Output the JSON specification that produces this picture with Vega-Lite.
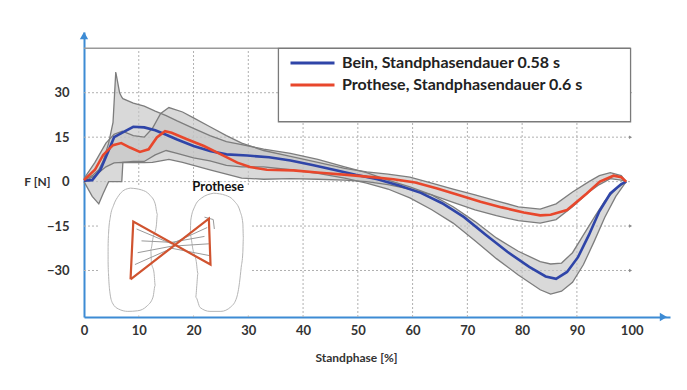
{
  "$schema": "https://vega.github.io/schema/vega-lite/v6.json",
  "width": 586,
  "height": 285,
  "autosize": "none",
  "padding": {"left": 84, "top": 32, "right": 17, "bottom": 73},
  "background": "white",
  "data": {"values": [{}]},
  "datasets": {
    "gridv": [{"gx": 10}, {"gx": 20}, {"gx": 30}, {"gx": 40}, {"gx": 50}, {"gx": 60}, {"gx": 70}, {"gx": 80}, {"gx": 90}],
    "gridh": [{"gy": -30}, {"gy": -15}, {"gy": 0}, {"gy": 15}, {"gy": 30}],
    "band": [
      {"band": "Bein", "x": 0, "hi": 0.5, "lo": 0},
      {"band": "Bein", "x": 1.5, "hi": 2, "lo": -5},
      {"band": "Bein", "x": 2.7, "hi": 4, "lo": -7.5},
      {"band": "Bein", "x": 3.5, "hi": 7, "lo": -4},
      {"band": "Bein", "x": 4.5, "hi": 13, "lo": 0},
      {"band": "Bein", "x": 5.3, "hi": 20, "lo": 0},
      {"band": "Bein", "x": 5.8, "hi": 37, "lo": 0},
      {"band": "Bein", "x": 6.5, "hi": 30, "lo": 0},
      {"band": "Bein", "x": 6.9, "hi": 28.5, "lo": 0},
      {"band": "Bein", "x": 7.1, "hi": 28, "lo": 6.5},
      {"band": "Bein", "x": 9, "hi": 26.5, "lo": 6.8},
      {"band": "Bein", "x": 11, "hi": 25.5, "lo": 6.8},
      {"band": "Bein", "x": 13, "hi": 23.8, "lo": 9},
      {"band": "Bein", "x": 15, "hi": 22.3, "lo": 10.5},
      {"band": "Bein", "x": 17, "hi": 20.5, "lo": 9.5},
      {"band": "Bein", "x": 20, "hi": 18, "lo": 8},
      {"band": "Bein", "x": 23, "hi": 15.5, "lo": 7},
      {"band": "Bein", "x": 26, "hi": 13.5, "lo": 5.5},
      {"band": "Bein", "x": 28.8, "hi": 12.5, "lo": 5},
      {"band": "Bein", "x": 32.8, "hi": 11, "lo": 5},
      {"band": "Bein", "x": 37.7, "hi": 9.5, "lo": 4},
      {"band": "Bein", "x": 42.7, "hi": 7.5, "lo": 2.8},
      {"band": "Bein", "x": 47.6, "hi": 5, "lo": 1.2},
      {"band": "Bein", "x": 51.6, "hi": 3, "lo": -0.5},
      {"band": "Bein", "x": 55.5, "hi": 0.5, "lo": -2.5},
      {"band": "Bein", "x": 59.5, "hi": -1.8, "lo": -5.5},
      {"band": "Bein", "x": 63.5, "hi": -4.5, "lo": -9.5},
      {"band": "Bein", "x": 67.4, "hi": -8.5, "lo": -14},
      {"band": "Bein", "x": 71.4, "hi": -13.5, "lo": -20},
      {"band": "Bein", "x": 75.3, "hi": -19, "lo": -26},
      {"band": "Bein", "x": 79.3, "hi": -23.5, "lo": -31.5},
      {"band": "Bein", "x": 83.3, "hi": -27, "lo": -36.5},
      {"band": "Bein", "x": 85.2, "hi": -27.8, "lo": -38},
      {"band": "Bein", "x": 87.2, "hi": -27.5, "lo": -37},
      {"band": "Bein", "x": 89.2, "hi": -24, "lo": -34},
      {"band": "Bein", "x": 91.2, "hi": -18, "lo": -28},
      {"band": "Bein", "x": 93.2, "hi": -12, "lo": -20},
      {"band": "Bein", "x": 95.1, "hi": -6.5, "lo": -12},
      {"band": "Bein", "x": 97.1, "hi": -2.5, "lo": -5},
      {"band": "Bein", "x": 99, "hi": 0, "lo": 0},
      {"band": "Prothese", "x": 0, "hi": 1, "lo": 0},
      {"band": "Prothese", "x": 2, "hi": 6.5, "lo": 2},
      {"band": "Prothese", "x": 4, "hi": 13, "lo": 5},
      {"band": "Prothese", "x": 5.5, "hi": 16, "lo": 6.3},
      {"band": "Prothese", "x": 7, "hi": 17, "lo": 6.5},
      {"band": "Prothese", "x": 9, "hi": 15.5, "lo": 6.4},
      {"band": "Prothese", "x": 11, "hi": 15, "lo": 6.4},
      {"band": "Prothese", "x": 12.5, "hi": 18, "lo": 6.5},
      {"band": "Prothese", "x": 14, "hi": 23, "lo": 7},
      {"band": "Prothese", "x": 15.5, "hi": 25, "lo": 7.5},
      {"band": "Prothese", "x": 18, "hi": 23.5, "lo": 6.5},
      {"band": "Prothese", "x": 20, "hi": 21.5, "lo": 5.5},
      {"band": "Prothese", "x": 23, "hi": 18.5, "lo": 4},
      {"band": "Prothese", "x": 26, "hi": 15.5, "lo": 2.5},
      {"band": "Prothese", "x": 28.8, "hi": 13, "lo": 1.2},
      {"band": "Prothese", "x": 32.8, "hi": 10.5, "lo": 0.8},
      {"band": "Prothese", "x": 37.7, "hi": 8.5, "lo": 1},
      {"band": "Prothese", "x": 42.7, "hi": 6.5, "lo": 0.8},
      {"band": "Prothese", "x": 47.6, "hi": 4.5, "lo": 0.5},
      {"band": "Prothese", "x": 51.6, "hi": 3.3, "lo": 0},
      {"band": "Prothese", "x": 55.5, "hi": 2.5, "lo": -1},
      {"band": "Prothese", "x": 59.5, "hi": 1.5, "lo": -2.5},
      {"band": "Prothese", "x": 63.5, "hi": -0.5, "lo": -4.5},
      {"band": "Prothese", "x": 67.4, "hi": -2.5, "lo": -7},
      {"band": "Prothese", "x": 71.4, "hi": -4.5, "lo": -9.5},
      {"band": "Prothese", "x": 75.3, "hi": -6.5, "lo": -11.5},
      {"band": "Prothese", "x": 79.3, "hi": -8.5, "lo": -13.2},
      {"band": "Prothese", "x": 83.3, "hi": -9.3, "lo": -14},
      {"band": "Prothese", "x": 86.2, "hi": -7.5, "lo": -12.8},
      {"band": "Prothese", "x": 89.2, "hi": -3.5, "lo": -8.5},
      {"band": "Prothese", "x": 92.2, "hi": 0, "lo": -3.5},
      {"band": "Prothese", "x": 94.1, "hi": 2, "lo": -1},
      {"band": "Prothese", "x": 96.1, "hi": 3, "lo": 1},
      {"band": "Prothese", "x": 98.1, "hi": 2, "lo": 0.5},
      {"band": "Prothese", "x": 99, "hi": 0, "lo": 0}
    ],
    "mean": [
      {"series": "Bein, Standphasendauer 0.58 s", "x": 0, "y": 0.3},
      {"series": "Bein, Standphasendauer 0.58 s", "x": 1.5, "y": 0.5},
      {"series": "Bein, Standphasendauer 0.58 s", "x": 3, "y": 4},
      {"series": "Bein, Standphasendauer 0.58 s", "x": 4.5, "y": 10.5},
      {"series": "Bein, Standphasendauer 0.58 s", "x": 5.5, "y": 15},
      {"series": "Bein, Standphasendauer 0.58 s", "x": 7, "y": 16.5},
      {"series": "Bein, Standphasendauer 0.58 s", "x": 9, "y": 18.5},
      {"series": "Bein, Standphasendauer 0.58 s", "x": 11, "y": 18.3},
      {"series": "Bein, Standphasendauer 0.58 s", "x": 13, "y": 17.3},
      {"series": "Bein, Standphasendauer 0.58 s", "x": 15, "y": 15.8},
      {"series": "Bein, Standphasendauer 0.58 s", "x": 17, "y": 14.2},
      {"series": "Bein, Standphasendauer 0.58 s", "x": 20, "y": 12},
      {"series": "Bein, Standphasendauer 0.58 s", "x": 23, "y": 10.3},
      {"series": "Bein, Standphasendauer 0.58 s", "x": 26, "y": 9.2},
      {"series": "Bein, Standphasendauer 0.58 s", "x": 29.8, "y": 8.8},
      {"series": "Bein, Standphasendauer 0.58 s", "x": 33.8, "y": 8.2},
      {"series": "Bein, Standphasendauer 0.58 s", "x": 37.7, "y": 7.1},
      {"series": "Bein, Standphasendauer 0.58 s", "x": 41.7, "y": 5.6},
      {"series": "Bein, Standphasendauer 0.58 s", "x": 45.6, "y": 4},
      {"series": "Bein, Standphasendauer 0.58 s", "x": 49.6, "y": 2.3},
      {"series": "Bein, Standphasendauer 0.58 s", "x": 53.6, "y": 0.8},
      {"series": "Bein, Standphasendauer 0.58 s", "x": 57.5, "y": -1.3},
      {"series": "Bein, Standphasendauer 0.58 s", "x": 61.5, "y": -3.8},
      {"series": "Bein, Standphasendauer 0.58 s", "x": 65.4, "y": -7.3},
      {"series": "Bein, Standphasendauer 0.58 s", "x": 69.4, "y": -12},
      {"series": "Bein, Standphasendauer 0.58 s", "x": 73.4, "y": -18},
      {"series": "Bein, Standphasendauer 0.58 s", "x": 77.3, "y": -23.7},
      {"series": "Bein, Standphasendauer 0.58 s", "x": 81.3, "y": -28.8},
      {"series": "Bein, Standphasendauer 0.58 s", "x": 84.3, "y": -32},
      {"series": "Bein, Standphasendauer 0.58 s", "x": 86.2, "y": -32.8},
      {"series": "Bein, Standphasendauer 0.58 s", "x": 88.2, "y": -30.5},
      {"series": "Bein, Standphasendauer 0.58 s", "x": 90.2, "y": -25.5},
      {"series": "Bein, Standphasendauer 0.58 s", "x": 92.2, "y": -18},
      {"series": "Bein, Standphasendauer 0.58 s", "x": 94.1, "y": -10},
      {"series": "Bein, Standphasendauer 0.58 s", "x": 96.1, "y": -4},
      {"series": "Bein, Standphasendauer 0.58 s", "x": 98.1, "y": -0.8},
      {"series": "Bein, Standphasendauer 0.58 s", "x": 99, "y": 0},
      {"series": "Prothese, Standphasendauer 0.6 s", "x": 0, "y": 0.5},
      {"series": "Prothese, Standphasendauer 0.6 s", "x": 2, "y": 4},
      {"series": "Prothese, Standphasendauer 0.6 s", "x": 3.5, "y": 9},
      {"series": "Prothese, Standphasendauer 0.6 s", "x": 5.3, "y": 12.3},
      {"series": "Prothese, Standphasendauer 0.6 s", "x": 6.8, "y": 13},
      {"series": "Prothese, Standphasendauer 0.6 s", "x": 8.4, "y": 11.5},
      {"series": "Prothese, Standphasendauer 0.6 s", "x": 10.2, "y": 10},
      {"series": "Prothese, Standphasendauer 0.6 s", "x": 11.8, "y": 10.9},
      {"series": "Prothese, Standphasendauer 0.6 s", "x": 13.3, "y": 14.9},
      {"series": "Prothese, Standphasendauer 0.6 s", "x": 14.8, "y": 17},
      {"series": "Prothese, Standphasendauer 0.6 s", "x": 16, "y": 16.5},
      {"series": "Prothese, Standphasendauer 0.6 s", "x": 18.8, "y": 14.3},
      {"series": "Prothese, Standphasendauer 0.6 s", "x": 21.9, "y": 12},
      {"series": "Prothese, Standphasendauer 0.6 s", "x": 25, "y": 9.2},
      {"series": "Prothese, Standphasendauer 0.6 s", "x": 28, "y": 6.4},
      {"series": "Prothese, Standphasendauer 0.6 s", "x": 30.3, "y": 4.9},
      {"series": "Prothese, Standphasendauer 0.6 s", "x": 33.4, "y": 4},
      {"series": "Prothese, Standphasendauer 0.6 s", "x": 38.2, "y": 3.8},
      {"series": "Prothese, Standphasendauer 0.6 s", "x": 43.1, "y": 3},
      {"series": "Prothese, Standphasendauer 0.6 s", "x": 48.6, "y": 2.2},
      {"series": "Prothese, Standphasendauer 0.6 s", "x": 52.6, "y": 1.5},
      {"series": "Prothese, Standphasendauer 0.6 s", "x": 56.5, "y": 0.8},
      {"series": "Prothese, Standphasendauer 0.6 s", "x": 60.5, "y": -0.3},
      {"series": "Prothese, Standphasendauer 0.6 s", "x": 64.5, "y": -2.3},
      {"series": "Prothese, Standphasendauer 0.6 s", "x": 68.4, "y": -4.5},
      {"series": "Prothese, Standphasendauer 0.6 s", "x": 72.4, "y": -6.8},
      {"series": "Prothese, Standphasendauer 0.6 s", "x": 76.3, "y": -8.7},
      {"series": "Prothese, Standphasendauer 0.6 s", "x": 80.3, "y": -10.4},
      {"series": "Prothese, Standphasendauer 0.6 s", "x": 83.3, "y": -11.4},
      {"series": "Prothese, Standphasendauer 0.6 s", "x": 85.2, "y": -11.2},
      {"series": "Prothese, Standphasendauer 0.6 s", "x": 88.2, "y": -9.6},
      {"series": "Prothese, Standphasendauer 0.6 s", "x": 91.8, "y": -4},
      {"series": "Prothese, Standphasendauer 0.6 s", "x": 94.2, "y": 0},
      {"series": "Prothese, Standphasendauer 0.6 s", "x": 96.7, "y": 2},
      {"series": "Prothese, Standphasendauer 0.6 s", "x": 98.1, "y": 1.5},
      {"series": "Prothese, Standphasendauer 0.6 s", "x": 99, "y": 0}
    ],
    "feet": [
      {"foot": "L", "i": 0, "x": 8.5, "y": -2.2}, {"foot": "L", "i": 1, "x": 10.5, "y": -2.8},
      {"foot": "L", "i": 2, "x": 12, "y": -4.5}, {"foot": "L", "i": 3, "x": 13, "y": -7.5},
      {"foot": "L", "i": 4, "x": 13.4, "y": -11}, {"foot": "L", "i": 5, "x": 13.2, "y": -15},
      {"foot": "L", "i": 6, "x": 12.6, "y": -19}, {"foot": "L", "i": 7, "x": 12.2, "y": -23},
      {"foot": "L", "i": 8, "x": 12.3, "y": -27}, {"foot": "L", "i": 9, "x": 12.8, "y": -31},
      {"foot": "L", "i": 10, "x": 13, "y": -35}, {"foot": "L", "i": 11, "x": 12.6, "y": -39},
      {"foot": "L", "i": 12, "x": 11.5, "y": -42}, {"foot": "L", "i": 13, "x": 9.8, "y": -43.6},
      {"foot": "L", "i": 14, "x": 8, "y": -43.8}, {"foot": "L", "i": 15, "x": 6.3, "y": -43},
      {"foot": "L", "i": 16, "x": 5.2, "y": -41}, {"foot": "L", "i": 17, "x": 4.7, "y": -37},
      {"foot": "L", "i": 18, "x": 4.5, "y": -32}, {"foot": "L", "i": 19, "x": 4.4, "y": -27},
      {"foot": "L", "i": 20, "x": 4.4, "y": -22}, {"foot": "L", "i": 21, "x": 4.5, "y": -17},
      {"foot": "L", "i": 22, "x": 4.8, "y": -12}, {"foot": "L", "i": 23, "x": 5.4, "y": -8},
      {"foot": "L", "i": 24, "x": 6.3, "y": -4.8}, {"foot": "L", "i": 25, "x": 7.3, "y": -2.9},
      {"foot": "L", "i": 26, "x": 8.5, "y": -2.2},
      {"foot": "R", "i": 0, "x": 23.7, "y": -3.9}, {"foot": "R", "i": 1, "x": 25.8, "y": -4.6},
      {"foot": "R", "i": 2, "x": 27.4, "y": -6.5}, {"foot": "R", "i": 3, "x": 28.5, "y": -10},
      {"foot": "R", "i": 4, "x": 29, "y": -14}, {"foot": "R", "i": 5, "x": 29.1, "y": -19},
      {"foot": "R", "i": 6, "x": 29, "y": -24}, {"foot": "R", "i": 7, "x": 28.7, "y": -29},
      {"foot": "R", "i": 8, "x": 28.4, "y": -34}, {"foot": "R", "i": 9, "x": 27.9, "y": -39},
      {"foot": "R", "i": 10, "x": 26.8, "y": -42.3}, {"foot": "R", "i": 11, "x": 25, "y": -43.8},
      {"foot": "R", "i": 12, "x": 23, "y": -43.8}, {"foot": "R", "i": 13, "x": 21.2, "y": -42.5},
      {"foot": "R", "i": 14, "x": 20.4, "y": -39}, {"foot": "R", "i": 15, "x": 20.6, "y": -35},
      {"foot": "R", "i": 16, "x": 20.8, "y": -31}, {"foot": "R", "i": 17, "x": 20.5, "y": -27},
      {"foot": "R", "i": 18, "x": 19.9, "y": -23}, {"foot": "R", "i": 19, "x": 19.4, "y": -18},
      {"foot": "R", "i": 20, "x": 19.5, "y": -13}, {"foot": "R", "i": 21, "x": 20.2, "y": -8.5},
      {"foot": "R", "i": 22, "x": 21.5, "y": -5.5}, {"foot": "R", "i": 23, "x": 23.7, "y": -3.9}
    ],
    "traj": [
      {"path": "g1", "i": 0, "x": 9.6, "y": -16}, {"path": "g1", "i": 1, "x": 16, "y": -21}, {"path": "g1", "i": 2, "x": 22.5, "y": -15.5},
      {"path": "g2", "i": 0, "x": 9.8, "y": -24}, {"path": "g2", "i": 1, "x": 16, "y": -21.8}, {"path": "g2", "i": 2, "x": 22.8, "y": -21},
      {"path": "g3", "i": 0, "x": 9.3, "y": -28}, {"path": "g3", "i": 1, "x": 16, "y": -22.5}, {"path": "g3", "i": 2, "x": 23, "y": -25},
      {"path": "g4", "i": 0, "x": 10.5, "y": -20}, {"path": "g4", "i": 1, "x": 16, "y": -20.5}, {"path": "g4", "i": 2, "x": 22, "y": -18.5},
      {"path": "g5", "i": 0, "x": 22, "y": -12}, {"path": "g5", "i": 1, "x": 23.6, "y": -12.8}, {"path": "g5", "i": 2, "x": 23.8, "y": -16}
    ],
    "bfly": [
      {"i": 0, "x": 8.5, "y": -33}, {"i": 1, "x": 22.8, "y": -12.5}, {"i": 2, "x": 23.1, "y": -28},
      {"i": 3, "x": 9, "y": -13.5}, {"i": 4, "x": 8.5, "y": -33}
    ]
  },
  "layer": [
    {
      "data": {"name": "gridv"},
      "mark": {"type": "rule", "color": "#b0b0b0", "strokeWidth": 1, "strokeDash": [2, 2]},
      "encoding": {
        "x": {"field": "gx", "type": "quantitative", "title": "Standphase [%]",
          "scale": {"domain": [0, 107], "nice": false, "zero": false},
          "axis": {"values": [0, 10, 20, 30, 40, 50, 60, 70, 80, 90, 100], "grid": false, "ticks": false,
            "domainColor": "#3d8bd4", "domainWidth": 2, "labelFont": "Lato", "labelFontSize": 13,
            "labelFontWeight": "bold", "labelColor": "#333333", "labelPadding": 7, "labelFlush": false,
            "titleFont": "Lato", "titleFontSize": 12, "titleFontWeight": "bold", "titleColor": "#333333",
            "titleX": 272, "titleY": 40, "titleBaseline": "middle", "titleAlign": "center"}},
        "y": {"datum": -45.7, "type": "quantitative", "title": "F [N]",
          "scale": {"domain": [-45.7, 50.5], "nice": false, "zero": false},
          "axis": {"title": "F [N]", "values": [-30, -15, 0, 15, 30], "grid": false, "ticks": false,
            "domainColor": "#3d8bd4", "domainWidth": 2, "labelFont": "Lato", "labelFontSize": 13,
            "labelFontWeight": "bold", "labelColor": "#333333", "labelPadding": 15,
            "titleFont": "Lato", "titleFontSize": 12, "titleFontWeight": "bold", "titleColor": "#333333",
            "titleAngle": 0, "titleAlign": "right", "titleBaseline": "middle", "titleX": -34, "titleY": 149.6}},
        "y2": {"datum": 45}
      }
    },
    {
      "data": {"name": "gridh"},
      "mark": {"type": "rule", "color": "#b0b0b0", "strokeWidth": 1, "strokeDash": [2, 2]},
      "encoding": {
        "y": {"field": "gy", "type": "quantitative", "title": "F [N]"},
        "x": {"datum": 0},
        "x2": {"datum": 99.8}
      }
    },
    {
      "data": {"name": "gridh"},
      "mark": {"type": "point", "shape": "triangle-right", "filled": true, "color": "#888888", "size": 12, "opacity": 1},
      "transform": [{"filter": "datum.gy != 0"}],
      "encoding": {
        "y": {"field": "gy", "type": "quantitative", "title": "F [N]"},
        "x": {"datum": 99.8}
      }
    },
    {
      "mark": {"type": "rule", "color": "#999999", "strokeWidth": 1.5},
      "encoding": {"x": {"datum": 0}, "x2": {"datum": 99.8}, "y": {"datum": 45}}
    },
    {
      "mark": {"type": "rect", "fill": "white", "stroke": "#7a7a7a", "strokeWidth": 1.3},
      "encoding": {"x": {"datum": 35.5}, "x2": {"datum": 99.8}, "y": {"datum": 45}, "y2": {"datum": 20.2}}
    },
    {
      "mark": {"type": "rect", "fill": "white"},
      "encoding": {"x": {"datum": 2.6}, "x2": {"datum": 30.3}, "y": {"datum": -1.5}, "y2": {"datum": -45.2}}
    },
    {
      "data": {"name": "band"},
      "mark": {"type": "area", "color": "#c4c4c4", "opacity": 0.65},
      "encoding": {
        "x": {"field": "x", "type": "quantitative", "title": "Standphase [%]"},
        "y": {"field": "hi", "type": "quantitative", "title": "F [N]"},
        "y2": {"field": "lo"},
        "detail": {"field": "band"}
      }
    },
    {
      "data": {"name": "band"},
      "mark": {"type": "line", "color": "#7d7d7d", "strokeWidth": 1.3},
      "encoding": {
        "x": {"field": "x", "type": "quantitative", "title": "Standphase [%]"},
        "y": {"field": "hi", "type": "quantitative", "title": "F [N]"},
        "detail": {"field": "band"}
      }
    },
    {
      "data": {"name": "band"},
      "mark": {"type": "line", "color": "#7d7d7d", "strokeWidth": 1.3},
      "encoding": {
        "x": {"field": "x", "type": "quantitative", "title": "Standphase [%]"},
        "y": {"field": "lo", "type": "quantitative", "title": "F [N]"},
        "detail": {"field": "band"}
      }
    },
    {
      "data": {"name": "mean"},
      "mark": {"type": "line", "strokeWidth": 2.6},
      "encoding": {
        "x": {"field": "x", "type": "quantitative", "title": "Standphase [%]"},
        "y": {"field": "y", "type": "quantitative", "title": "F [N]"},
        "color": {"field": "series", "type": "nominal",
          "scale": {"domain": ["Bein, Standphasendauer 0.58 s", "Prothese, Standphasendauer 0.6 s"], "range": ["#2f45a8", "#e8472c"]},
          "legend": {"orient": "none", "legendX": 205, "legendY": 23, "title": null, "symbolType": "stroke",
            "symbolSize": 1936, "symbolStrokeWidth": 3, "clipHeight": 16, "rowPadding": 6, "labelFont": "Lato", "labelFontSize": 16,
            "labelFontWeight": "bold", "labelColor": "#222222", "labelOffset": 6, "labelLimit": 400}}
      }
    },
    {
      "data": {"name": "feet"},
      "mark": {"type": "line", "color": "#b5b5b5", "strokeWidth": 1, "interpolate": "monotone"},
      "encoding": {
        "x": {"field": "x", "type": "quantitative", "title": "Standphase [%]"},
        "y": {"field": "y", "type": "quantitative", "title": "F [N]"},
        "order": {"field": "i"},
        "detail": {"field": "foot"}
      }
    },
    {
      "data": {"name": "traj"},
      "mark": {"type": "line", "color": "#9a9a9a", "strokeWidth": 1},
      "encoding": {
        "x": {"field": "x", "type": "quantitative", "title": "Standphase [%]"},
        "y": {"field": "y", "type": "quantitative", "title": "F [N]"},
        "order": {"field": "i"},
        "detail": {"field": "path"}
      }
    },
    {
      "data": {"name": "bfly"},
      "mark": {"type": "line", "color": "#d0532f", "strokeWidth": 2.2},
      "encoding": {
        "x": {"field": "x", "type": "quantitative", "title": "Standphase [%]"},
        "y": {"field": "y", "type": "quantitative", "title": "F [N]"},
        "order": {"field": "i"}
      }
    },
    {
      "mark": {"type": "text", "text": "Prothese", "font": "Lato", "fontSize": 13, "fontWeight": "bold", "color": "#111111", "align": "center", "baseline": "middle"},
      "encoding": {"x": {"datum": 24.5}, "y": {"datum": -1.8}}
    },
    {
      "mark": {"type": "point", "shape": "triangle-up", "filled": true, "color": "#3d8bd4", "size": 70, "opacity": 1},
      "encoding": {"x": {"datum": 0}, "y": {"datum": 49.3}}
    },
    {
      "mark": {"type": "point", "shape": "triangle-right", "filled": true, "color": "#3d8bd4", "size": 70, "opacity": 1},
      "encoding": {"x": {"datum": 105.8}, "y": {"datum": -45.7}}
    }
  ],
  "config": {
    "view": {"stroke": null},
    "font": "Lato"
  }
}
